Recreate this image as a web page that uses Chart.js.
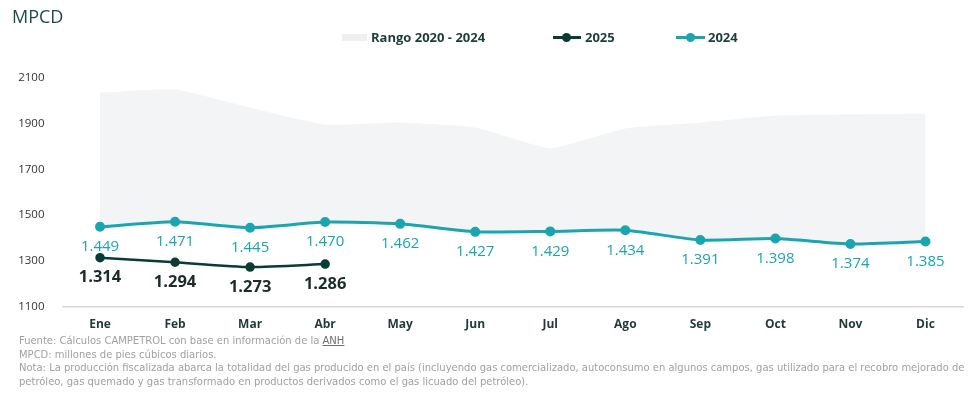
<!DOCTYPE html>
<html>
<head>
<meta charset="utf-8">
<script src="https://cdn.jsdelivr.net/npm/chart.js@4.4.1/dist/chart.umd.min.js"></script>
<style>
  body { margin: 0; background: #fff; font-family: "Open Sans", sans-serif; }
  #wrap { position: relative; width: 976px; height: 393px; overflow: hidden; }
  #grafico { position: absolute; left: 0; top: 0; }
  #titulo { position: absolute; left: 12px; top: 4px; font-size: 18px; color: #1e4b48; }
  .ley { position: absolute; top: 28px; height: 18px; font-size: 13px; font-weight: bold; color: #1d3c3a; line-height: 18px; }
  .ley i { position: absolute; display: block; }
  #notas { position: absolute; left: 19px; top: 334px; font-size: 11.1px; color: #a0a0a0; line-height: 13.6px; white-space: nowrap; font-family: "DejaVu Sans Condensed", "DejaVu Sans", sans-serif; }
  #notas u { color: #6e6e6e; }
</style>
</head>
<body>
<div id="wrap">
  <canvas id="grafico" width="976" height="339"></canvas>
  <div id="titulo">MPCD</div>
  <div class="ley" style="left:342px;padding-left:29px;"><i style="left:0;top:6px;width:25px;height:7px;background:#efefef;"></i>Rango 2020 - 2024</div>
  <div class="ley" style="left:553px;padding-left:32px;"><i style="left:0;top:8px;width:28px;height:3px;background:#0b3b35;"></i><i style="left:9px;top:5px;width:9px;height:9px;border-radius:50%;background:#0b3b35;"></i>2025</div>
  <div class="ley" style="left:676px;padding-left:32px;"><i style="left:0;top:8px;width:29px;height:3px;background:#1aa5b0;"></i><i style="left:10px;top:5px;width:9px;height:9px;border-radius:50%;background:#1aa5b0;"></i>2024</div>
  <div id="notas">
    Fuente: Cálculos CAMPETROL con base en información de la <u>ANH</u><br>
    MPCD: millones de pies cúbicos diarios.<br>
    Nota: La producción fiscalizada abarca la totalidad del gas producido en el país (incluyendo gas comercializado, autoconsumo en algunos campos, gas utilizado para el recobro mejorado de<br>
    petróleo, gas quemado y gas transformado en productos derivados como el gas licuado del petróleo).
  </div>
</div>
<script>
// Datos
const meses = ["Ene", "Feb", "Mar", "Abr", "May", "Jun", "Jul", "Ago", "Sep", "Oct", "Nov", "Dic"];
const valores2024 = [1449, 1471, 1445, 1470, 1462, 1427, 1429, 1434, 1391, 1398, 1374, 1385];
const valores2025 = [1314, 1294, 1273, 1286];
const rangoMax = [2036, 2050, 1971, 1896, 1905, 1883, 1793, 1879, 1905, 1936, 1940, 1945];
const rangoMin = [1449, 1471, 1445, 1470, 1462, 1427, 1429, 1434, 1391, 1398, 1374, 1385];
const ticksY = [1100, 1300, 1500, 1700, 1900, 2100];

const fuente = '"Open Sans", sans-serif';

// Formato 1.449
function formato(v) {
  return String(v).replace(/\B(?=(\d{3})+(?!\d))/g, ".");
}

// Etiquetas de valores debajo de cada punto
const etiquetas = {
  id: "etiquetas",
  afterDatasetsDraw(chart) {
    const ctx = chart.ctx;
    chart.data.datasets.forEach((ds, i) => {
      if (!ds.etiqueta) return;
      const meta = chart.getDatasetMeta(i);
      ctx.save();
      ctx.font = ds.etiqueta.font;
      ctx.fillStyle = ds.etiqueta.color;
      ctx.textAlign = "center";
      ctx.textBaseline = "middle";
      meta.data.forEach((pt, j) => {
        ctx.fillText(formato(ds.data[j]), pt.x, pt.y + 20);
      });
      ctx.restore();
    });
  }
};

const ctx = document.getElementById("grafico").getContext("2d");
new Chart(ctx, {
  type: "line",
  data: {
    labels: meses,
    datasets: [
      {
        label: "2025",
        data: valores2025,
        borderColor: "#0b3b35",
        backgroundColor: "#0b3b35",
        borderWidth: 2.5,
        pointRadius: 3.5,
        tension: 0.2,
        fill: false,
        etiqueta: { font: "bold 16.5px " + fuente, color: "#1b2d2b" }
      },
      {
        label: "2024",
        data: valores2024,
        borderColor: "#1aa5b0",
        backgroundColor: "#1aa5b0",
        borderWidth: 3,
        pointRadius: 3.5,
        tension: 0.2,
        fill: false,
        etiqueta: { font: "15px " + fuente, color: "#1aa5b0" }
      },
      {
        label: "Rango 2020 - 2024",
        data: rangoMax,
        borderWidth: 0,
        borderColor: "rgba(0,0,0,0)",
        backgroundColor: "#f3f4f5",
        pointRadius: 0,
        tension: 0.15,
        fill: "+1"
      },
      {
        label: "min",
        data: rangoMin,
        borderWidth: 0,
        borderColor: "rgba(0,0,0,0)",
        pointRadius: 0,
        tension: 0.2,
        fill: false
      }
    ]
  },
  options: {
    responsive: false,
    animation: false,
    layout: { padding: { top: 78, right: 13, bottom: 4, left: 0 } },
    plugins: {
      legend: { display: false },
      tooltip: { enabled: false }
    },
    scales: {
      x: {
        offset: true,
        grid: { display: false },
        border: { display: true, color: "#d9d9d9", width: 1.5 },
        ticks: { color: "#1f3a38", font: { family: fuente, size: 12, weight: "bold" }, padding: 3 }
      },
      y: {
        min: 1100,
        max: 2100,
        grid: { display: false },
        border: { display: false },
        afterBuildTicks: s => { s.ticks = ticksY.map(v => ({ value: v })); },
        afterFit: s => { s.width = 62.5; },
        ticks: {
          color: "#333",
          font: { family: fuente, size: 11.5 },
          padding: 10,
          callback: v => String(v)
        }
      }
    }
  },
  plugins: [etiquetas]
});
</script>
</body>
</html>
